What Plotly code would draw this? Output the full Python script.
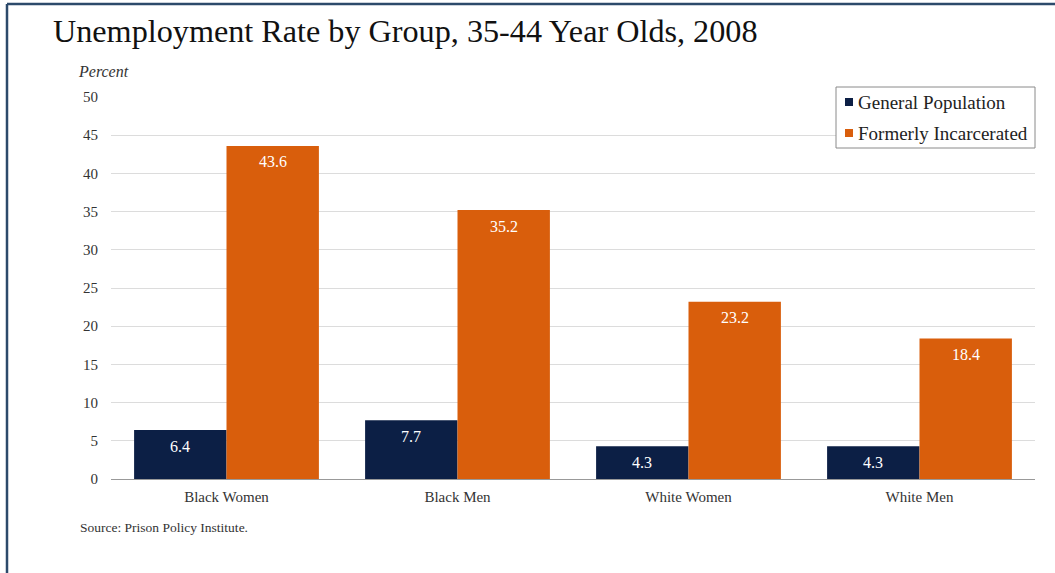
import plotly.graph_objects as go

categories = ["Black Women", "Black Men", "White Women", "White Men"]
general_population = [6.4, 7.7, 4.3, 4.3]
formerly_incarcerated = [43.6, 35.2, 23.2, 18.4]
y_ticks = [0, 5, 10, 15, 20, 25, 30, 35, 40, 45, 50]
series_names = ["General Population", "Formerly Incarcerated"]
series_colors = ["#0c1f45", "#d95e0c"]

W, H = 1055, 573
L, R, T, B = 111, 20, 97, 94
pw, ph = W - L - R, H - T - B

def px(x):
    return (x - L) / pw

def py(y):
    return (H - B - y) / ph

SERIF = "Liberation Serif, Times New Roman, serif"

fig = go.Figure()
for name, vals, col in zip(series_names, [general_population, formerly_incarcerated], series_colors):
    fig.add_trace(go.Bar(
        name=name, x=categories, y=vals,
        marker=dict(color=col, line=dict(width=0)),
        showlegend=False,
    ))

# value labels inside bars, near top
bar_px = pw / len(categories) * 0.8 / 2
for i, vals in enumerate([general_population, formerly_incarcerated]):
    xs = (i - 0.5) * bar_px
    for c, v in zip(categories, vals):
        fig.add_annotation(
            x=c, y=v, xref="x", yref="y", text=f"{v:.1f}", showarrow=False,
            xshift=xs, yshift=-16, yanchor="middle", xanchor="center",
            font=dict(family=SERIF, size=16, color="white"),
        )

fig.update_layout(
    width=W, height=H,
    margin=dict(l=L, r=R, t=T, b=B),
    paper_bgcolor="white", plot_bgcolor="white",
    barmode="group", bargap=0.2, bargroupgap=0,
    showlegend=False,
    font=dict(family=SERIF, color="#333"),
    xaxis=dict(
        showgrid=False, showline=True, linecolor="#999", linewidth=1,
        ticks="", tickfont=dict(family=SERIF, size=15, color="#333"),
        ticklabelstandoff=4,
    ),
    yaxis=dict(
        range=[0, 50], tickvals=y_ticks, showgrid=True, gridcolor="#dcdcdc",
        gridwidth=1, zeroline=False, showline=False, ticks="",
        tickfont=dict(family=SERIF, size=15, color="#333"),
        ticklabelstandoff=12,
    ),
)

# custom legend
fig.add_shape(type="rect", xref="paper", yref="paper",
              x0=px(836), x1=px(1035), y0=py(148), y1=py(87),
              line=dict(color="#8a8a8a", width=1), fillcolor="white", layer="above")
for j, (name, col) in enumerate(zip(series_names, series_colors)):
    cy = 102 + j * 31
    fig.add_shape(type="rect", xref="paper", yref="paper",
                  x0=px(845), x1=px(853), y0=py(cy + 4), y1=py(cy - 4),
                  line=dict(width=0), fillcolor=col, layer="above")
    fig.add_annotation(
        text=name, xref="paper", yref="paper", x=px(856), y=py(cy),
        xanchor="left", yanchor="middle", showarrow=False,
        font=dict(family=SERIF, size=19, color="#222"),
    )

fig.add_annotation(
    text="Unemployment Rate by Group, 35-44 Year Olds, 2008",
    xref="paper", yref="paper", x=px(51), y=py(31),
    xanchor="left", yanchor="middle", showarrow=False,
    font=dict(family=SERIF, size=32.2, color="#111"),
)
fig.add_annotation(
    text="<i>Percent</i>",
    xref="paper", yref="paper", x=px(76), y=py(71),
    xanchor="left", yanchor="middle", showarrow=False,
    font=dict(family=SERIF, size=16, color="#333"),
)
fig.add_annotation(
    text="Source: Prison Policy Institute.",
    xref="paper", yref="paper", x=px(78), y=py(527),
    xanchor="left", yanchor="middle", showarrow=False,
    font=dict(family=SERIF, size=13.5, color="#333"),
)

# frame
fig.add_shape(type="line", xref="paper", yref="paper",
              x0=px(7), x1=px(1056), y0=py(4), y1=py(4),
              line=dict(color="#2c4a6b", width=2.5))
fig.add_shape(type="line", xref="paper", yref="paper",
              x0=px(7), x1=px(7), y0=py(4), y1=py(574),
              line=dict(color="#2c4a6b", width=2.5))

fig.write_html("out.html", config={"displayModeBar": False},
               post_script="document.body.style.margin='0px';")
